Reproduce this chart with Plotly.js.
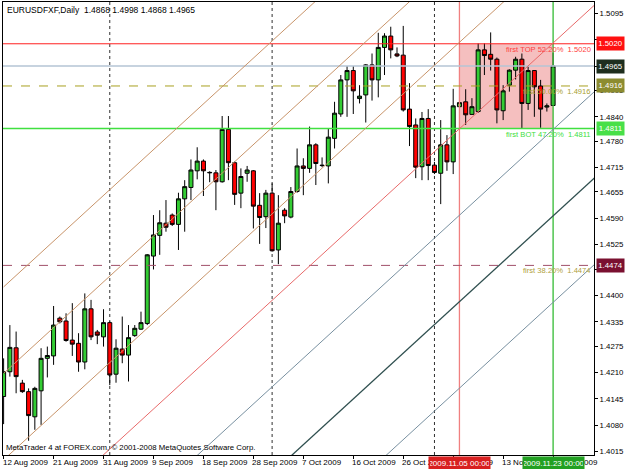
<!DOCTYPE html>
<html>
<head>
<meta charset="utf-8">
<script src="https://cdn.plot.ly/plotly-3.0.1.min.js"></script>
<style>
html,body{margin:0;padding:0;background:#ffffff;}
#chart{width:625px;height:469px;}
</style>
</head>
<body>
<div id="chart"></div>
<script>
// ---- data (daily bars, broker with Sunday bars) ----
const dates = [
 '2009-08-12','2009-08-13','2009-08-14','2009-08-16','2009-08-17','2009-08-18','2009-08-19','2009-08-20','2009-08-21',
 '2009-08-23','2009-08-24','2009-08-25','2009-08-26','2009-08-27','2009-08-28','2009-08-30','2009-08-31',
 '2009-09-01','2009-09-02','2009-09-03','2009-09-04','2009-09-06','2009-09-07','2009-09-08','2009-09-09',
 '2009-09-10','2009-09-11','2009-09-13','2009-09-14','2009-09-15','2009-09-16','2009-09-17','2009-09-18',
 '2009-09-20','2009-09-21','2009-09-22','2009-09-23','2009-09-24','2009-09-25','2009-09-27','2009-09-28',
 '2009-09-29','2009-09-30','2009-10-01','2009-10-02','2009-10-04','2009-10-05','2009-10-06','2009-10-07',
 '2009-10-08','2009-10-09','2009-10-11','2009-10-12','2009-10-13','2009-10-14','2009-10-15','2009-10-16',
 '2009-10-18','2009-10-19','2009-10-20','2009-10-21','2009-10-22','2009-10-23','2009-10-25','2009-10-26',
 '2009-10-27','2009-10-28','2009-10-29','2009-10-30','2009-11-01','2009-11-02','2009-11-03','2009-11-04',
 '2009-11-05','2009-11-06','2009-11-08','2009-11-09','2009-11-10','2009-11-11','2009-11-12','2009-11-13',
 '2009-11-15','2009-11-16','2009-11-17','2009-11-18','2009-11-19','2009-11-20','2009-11-22','2009-11-23'
];
const openP = [
 1.4151,1.4212,1.4271,1.4184,1.4163,1.4101,1.4165,1.4245,1.4251,
 1.4344,1.4337,1.4290,1.4282,1.4236,1.4367,1.4310,1.4298,
 1.4333,1.4206,1.4268,1.4253,1.4301,1.4317,1.4331,1.4497,
 1.4548,1.4578,1.4598,1.4575,1.4638,1.4666,1.4707,1.4731,
 1.4702,1.4702,1.4680,1.4809,1.4727,1.4652,1.4701,1.4707,
 1.4622,1.4594,1.4652,1.4512,1.4610,1.4593,1.4656,1.4719,
 1.4713,1.4771,1.4721,1.4719,1.4787,1.4847,1.4931,1.4954,
 1.4885,1.4894,1.4968,1.4931,1.5011,1.5039,1.4995,1.4992,
 1.4859,1.4820,1.4717,1.4836,1.4721,1.4701,1.4771,1.4729,
 1.4865,1.4877,1.4846,1.4853,1.5005,1.4994,1.4982,1.4855,
 1.4918,1.4955,1.4982,1.4873,1.4954,1.4916,1.4864,1.4868
];
const highP = [
 1.4245,1.4327,1.4311,1.4192,1.4171,1.4175,1.4270,1.4274,1.4374,
 1.4348,1.4356,1.4381,1.4307,1.4405,1.4389,1.4315,1.4366,
 1.4336,1.4292,1.4348,1.4327,1.4327,1.4360,1.4502,1.4598,
 1.4610,1.4635,1.4602,1.4653,1.4684,1.4735,1.4765,1.4735,
 1.4706,1.4709,1.4842,1.4842,1.4730,1.4713,1.4719,1.4709,
 1.4652,1.4660,1.4676,1.4647,1.4615,1.4667,1.4762,1.4738,
 1.4816,1.4775,1.4740,1.4811,1.4877,1.4943,1.4965,1.4965,
 1.4918,1.4970,1.4996,1.5047,1.5046,1.5062,1.5011,1.5064,
 1.4923,1.4836,1.4852,1.4859,1.4729,1.4832,1.4795,1.4909,
 1.4877,1.4908,1.4886,1.5021,1.5021,1.5048,1.4986,1.4918,
 1.4957,1.4988,1.4996,1.4964,1.4955,1.4931,1.4873,1.4998
];
const lowP = [
 1.4083,1.4200,1.4159,1.4160,1.4042,1.4069,1.4081,1.4198,1.4229,
 1.4331,1.4286,1.4251,1.4212,1.4218,1.4290,1.4280,1.4274,
 1.4179,1.4185,1.4233,1.4188,1.4298,1.4315,1.4327,1.4464,
 1.4500,1.4557,1.4571,1.4512,1.4557,1.4635,1.4686,1.4645,
 1.4679,1.4610,1.4678,1.4684,1.4623,1.4615,1.4680,1.4565,
 1.4527,1.4566,1.4508,1.4477,1.4578,1.4590,1.4653,1.4647,
 1.4702,1.4672,1.4716,1.4676,1.4762,1.4840,1.4840,1.4847,
 1.4873,1.4826,1.4880,1.4888,1.4943,1.4984,1.4987,1.4853,
 1.4768,1.4689,1.4684,1.4684,1.4699,1.4625,1.4707,1.4699,
 1.4864,1.4820,1.4845,1.4850,1.4943,1.4954,1.4824,1.4832,
 1.4902,1.4932,1.4812,1.4857,1.4840,1.4813,1.4853,1.4868
];
const closeP = [
 1.4212,1.4272,1.4200,1.4163,1.4104,1.4171,1.4245,1.4252,1.4327,
 1.4335,1.4289,1.4280,1.4236,1.4367,1.4298,1.4302,1.4333,
 1.4204,1.4270,1.4253,1.4296,1.4319,1.4333,1.4500,1.4549,
 1.4579,1.4568,1.4575,1.4638,1.4668,1.4709,1.4731,1.4707,
 1.4703,1.4680,1.4809,1.4727,1.4649,1.4693,1.4709,1.4620,
 1.4592,1.4652,1.4510,1.4578,1.4596,1.4656,1.4719,1.4713,
 1.4771,1.4725,1.4720,1.4790,1.4849,1.4931,1.4954,1.4904,
 1.4891,1.4968,1.4931,1.5011,1.5039,1.5005,1.4990,1.4857,
 1.4816,1.4716,1.4836,1.4720,1.4703,1.4771,1.4729,1.4867,
 1.4875,1.4845,1.4865,1.5005,1.4991,1.4982,1.4857,1.4904,
 1.4955,1.4982,1.4873,1.4954,1.4914,1.4859,1.4867,1.4965
];

// axis labels
const priceTicks = [1.5095,1.5030,1.4965,1.4905,1.4840,1.4780,1.4715,1.4655,1.4590,1.4525,1.4465,1.4400,1.4335,1.4275,1.4210,1.4145,1.4080,1.4015];
const dateTicks = ['2009-08-12','2009-08-21','2009-08-31','2009-09-09','2009-09-18','2009-09-28','2009-10-07','2009-10-16','2009-10-26','2009-11-04','2009-11-13','2009-11-23'];
const dateTickText = ['12 Aug 2009','21 Aug 2009','31 Aug 2009','9 Sep 2009','18 Sep 2009','28 Sep 2009','7 Oct 2009','16 Oct 2009','26 Oct 2009','4 Nov 2009','13 Nov 2009','23 Nov 2009'];

// horizontal levels
const levelPrices = [1.5020, 1.4965, 1.4916, 1.4811, 1.4474];
const levelBoxText = ['1.5020','1.4965','1.4916','1.4811','1.4474'];
const fiboPrices = [1.5020, 1.4916, 1.4811, 1.4474];
const fiboText = ['first TOP 52.20%  1.5020','first 50.00%  1.4916','first BOT 47.20%  1.4811','first 38.20%  1.4474'];

// vertical markers
const separatorDates = ['2009-09-01','2009-10-01','2009-11-01'];
const markerDates = ['2009-11-05','2009-11-23'];
const markerText = ['2009.11.05 00:00','2009.11.23 00:00'];
const boxPrices = [1.4811, 1.5020];

// equidistant channel lines (price at anchor date, slope per bar)
const channelAnchor = '2009-08-12';
const channelLevels = [1.4421, 1.4208, 1.3995, 1.3782, 1.3569, 1.3356, 1.3143];
const channelSlope = 0.001409;

const header = 'EURUSDFXF,Daily  1.4868 1.4998 1.4868 1.4965';
const footer = 'MetaTrader 4 at FOREX.com, \u00a9 2001-2008 MetaQuotes Software Corp.';

// ---- styles ----
const FONT = 'Liberation Sans Narrow, Arial Narrow, Liberation Sans, Arial, sans-serif';
const levelStyle = [
  {color:'#ff2020', width:1, dash:'solid'},
  {color:'#b4c4d4', width:1.5, dash:'solid'},
  {color:'#a8a020', width:1, dash:'dash'},
  {color:'#40e040', width:1.5, dash:'solid'},
  {color:'#a0506a', width:1, dash:'dash'}
];
const levelBoxColor = ['#ff1010','#1e2e1e','#8c8c30','#48e048','#7a1030'];
const fiboColor = ['#ff4040','#a8a030','#40e040','#b0a040'];
const markerColor = ['#f08080','#33bb33'];
const markerBoxColor = ['#d82020','#22a022'];
const channelStyle = [
  {color:'#c8946a', width:1},
  {color:'#c8946a', width:1},
  {color:'#c8946a', width:1},
  {color:'#e86a6a', width:1},
  {color:'#7890a0', width:1},
  {color:'#2f4f4f', width:1.3},
  {color:'#7890a0', width:1}
];

const idx = d => dates.indexOf(d);
const lastIdx = dates.length - 1;
const xMax = lastIdx + 6.55;
const xMin = -0.1;

const shapes = [];
// rectangle (background)
shapes.push({type:'rect', xref:'x', yref:'y', layer:'below',
  x0: idx(markerDates[0]), x1: idx(markerDates[1]), y0: boxPrices[0], y1: boxPrices[1],
  fillcolor:'rgba(236,128,128,0.5)', line:{width:0}});
// period separators
separatorDates.forEach(d => shapes.push({type:'line', xref:'x', yref:'paper', layer:'below',
  x0: idx(d), x1: idx(d), y0:0, y1:1, line:{color:'#303030', width:1, dash:'dot'}}));
// vertical marker lines
markerDates.forEach((d,i) => shapes.push({type:'line', xref:'x', yref:'paper',
  x0: idx(d), x1: idx(d), y0:0, y1:1, line:{color:markerColor[i], width:1.3}}));
// horizontal levels
levelPrices.forEach((p,i) => shapes.push({type:'line', xref:'paper', yref:'y',
  x0:0, x1:1, y0:p, y1:p, line:levelStyle[i]}));
// channel lines
const a0 = idx(channelAnchor);
channelLevels.forEach((p,i) => shapes.push({type:'line', xref:'x', yref:'y',
  x0:a0, x1:xMax + 2, y0:p, y1:p + channelSlope*(xMax + 2 - a0), line:channelStyle[i]}));

const annotations = [];
const fnt = (size, color) => ({family:FONT, size:size, color:color});
// header / footer
annotations.push({xref:'paper', yref:'paper', x:0, y:1, xanchor:'left', yanchor:'top', xshift:2, yshift:-1,
  text: header, showarrow:false, font:fnt(8.5,'#000')});
annotations.push({xref:'paper', yref:'paper', x:0, y:0, xanchor:'left', yanchor:'bottom', xshift:1, yshift:1,
  text: footer, showarrow:false, font:fnt(7.8,'#000')});
// date labels
dateTicks.forEach((d,i) => annotations.push({xref:'x', yref:'paper', x: idx(d), y:0, xanchor:'left', yanchor:'top',
  xshift:-3, yshift:-1, text: dateTickText[i], showarrow:false, font:fnt(8,'#000')}));
// fib texts
fiboPrices.forEach((p,i) => annotations.push({xref:'paper', yref:'y', x:1, y:p, xanchor:'right', yanchor:'top',
  xshift:-1, yshift:1, text: fiboText[i], showarrow:false, font:fnt(7.6, fiboColor[i])}));
// price boxes on axis
levelPrices.forEach((p,i) => annotations.push({xref:'paper', yref:'y', x:1, y:p, xanchor:'left', yanchor:'middle',
  xshift:2, text: levelBoxText[i], showarrow:false, bgcolor: levelBoxColor[i], borderpad:1, width:25, height:11,
  font:fnt(7.8,'#ffffff')}));
// date boxes
markerDates.forEach((d,i) => annotations.push({xref:'x', yref:'paper', x: idx(d), y:0, xanchor:'center', yanchor:'top',
  yshift:-1, text: markerText[i], showarrow:false, bgcolor: markerBoxColor[i], borderpad:1, width:59, height:10,
  font:fnt(8,'#ffffff')}));

const trace = {
  type:'candlestick', x: dates, open: openP, high: highP, low: lowP, close: closeP,
  increasing:{fillcolor:'#33cc33', line:{color:'#000000', width:1}},
  decreasing:{fillcolor:'#ff0000', line:{color:'#000000', width:1}},
  whiskerwidth:0, hoverinfo:'skip', showlegend:false
};

const layout = {
  width:625, height:469,
  margin:{l:3, r:31, t:2, b:14, pad:0},
  paper_bgcolor:'#ffffff', plot_bgcolor:'#ffffff',
  showlegend:false, boxgap:0.36, boxgroupgap:0,
  xaxis:{type:'category', range:[xMin, xMax], rangeslider:{visible:false}, showgrid:false, zeroline:false,
    showline:true, linecolor:'#000000', linewidth:1, mirror:true,
    tickmode:'array', tickvals: dateTicks, ticktext: dateTicks.map(()=>''), ticks:'outside', ticklen:3, tickcolor:'#000',
    showticklabels:false, fixedrange:true},
  yaxis:{side:'right', range:[1.40069, 1.51229], showgrid:false, zeroline:false,
    showline:true, linecolor:'#000000', linewidth:1, mirror:true,
    tickmode:'array', tickvals: priceTicks, ticktext: priceTicks.map(v=>v.toFixed(4)),
    ticks:'outside', ticklen:3, tickcolor:'#000', tickfont:fnt(7.8,'#000'), fixedrange:true},
  shapes: shapes,
  annotations: annotations
};

Plotly.newPlot('chart', [trace], layout, {displayModeBar:false, staticPlot:true});
</script>
</body>
</html>
